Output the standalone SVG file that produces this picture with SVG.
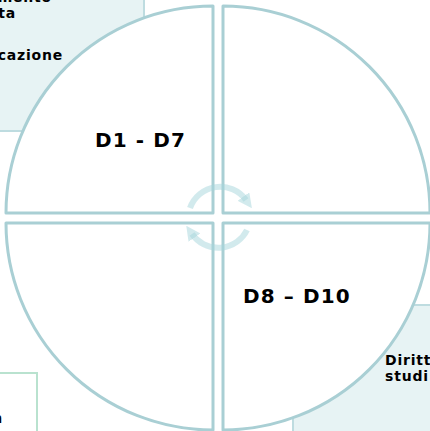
<svg xmlns="http://www.w3.org/2000/svg" width="430" height="431" viewBox="0 0 430 431">
<style>
.bg{fill:#E7F3F4;stroke:#BEDCE0;stroke-width:2}
.gb{fill:#FFFFFF;stroke:#B9E2CF;stroke-width:2}
.q{fill:#FFFFFF;stroke:#A9CFD4;stroke-width:3;stroke-linejoin:round}
.t{font-family:"DejaVu Sans","Verdana",sans-serif;font-weight:bold;fill:#000000}
.s{font-size:14px;letter-spacing:0.8px}
.b{font-size:20px;letter-spacing:1.1px}
.arr{fill:none;stroke:#A6D6DB;stroke-opacity:0.5;stroke-width:6}
</style>
<defs>
<marker id="ah" viewBox="0 0 10 10" refX="3" refY="5" markerWidth="2.4" markerHeight="2.4" orient="auto" markerUnits="strokeWidth">
<path d="M0,0 L10,5 L0,10 Z" fill="#A6D6DB" fill-opacity="0.5"/>
</marker>
</defs>
<g id="box-top-left">
<rect class="bg" x="-10" y="-10" width="154" height="141"/>
<text class="t s" x="52" y="2" text-anchor="end">mento</text>
<text class="t s" x="16" y="18" text-anchor="end">ta</text>
<text class="t s" x="63" y="60" text-anchor="end">cazione</text>
</g>
<g id="box-bottom-right">
<rect class="bg" x="293" y="305" width="150" height="140"/>
<text class="t s" x="385" y="365">Diritt</text>
<text class="t s" x="385" y="381">studi</text>
</g>
<g id="box-bottom-left">
<rect class="gb" x="-10" y="373" width="47" height="70"/>
<text class="t s" x="3" y="423" text-anchor="end">n</text>
</g>
<g id="quadrant-top-left">
<path class="q" d="M213,213 L6,213 A207,207 0 0 1 213,6 Z"/>
<text class="t b" x="95" y="147">D1 - D7</text>
</g>
<g id="quadrant-top-right">
<path class="q" d="M223,213 L223,6 A207,207 0 0 1 430,213 Z"/>
</g>
<g id="quadrant-bottom-left">
<path class="q" d="M213,223 L213,430 A207,207 0 0 1 6,223 Z"/>
</g>
<g id="quadrant-bottom-right">
<path class="q" d="M223,223 L430,223 A207,207 0 0 1 223,430 Z"/>
<text class="t b" x="243" y="303">D8 – D10</text>
</g>
<g id="connectors">
<path class="arr" d="M190,208 A32,32 0 0 1 246,200" marker-end="url(#ah)"/>
<path class="arr" d="M247,230 A32,32 0 0 1 192,234" marker-end="url(#ah)"/>
</g>
</svg>
